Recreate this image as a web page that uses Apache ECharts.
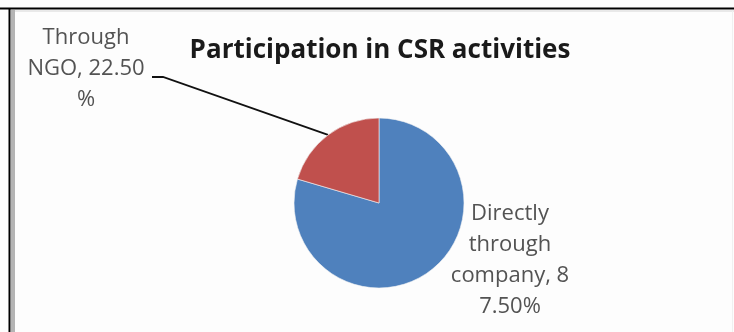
<!DOCTYPE html>
<html>
<head>
<meta charset="utf-8">
<script src="https://cdn.jsdelivr.net/npm/echarts@6/dist/echarts.min.js"></script>
<style>
  html, body { margin: 0; padding: 0; background: #ffffff; }
  #chart { width: 734px; height: 332px; }
</style>
</head>
<body>
<div id="chart"></div>
<script>
// Participation in CSR activities: share of respondents by channel
const categories = ['Directly through company', 'Through NGO'];
const shares = [87.5, 22.5];
const sliceColors = ['#4F81BD', '#C0504D'];

// Wrap "name, value%" into short lines; words stay whole, a number may be split
function wrapLabel(text, maxChars) {
  const words = text.split(' ');
  const lines = [];
  let line = '';
  words.forEach(function (w) {
    const joined = line ? line + ' ' + w : w;
    if (joined.length <= maxChars) { line = joined; return; }
    if (/\d/.test(w) && line) {
      const room = maxChars - line.length - 1;
      if (room > 0) { line += ' ' + w.slice(0, room); w = w.slice(room); }
      lines.push(line);
      line = w;
      return;
    }
    if (line) lines.push(line);
    line = w;
  });
  if (line) lines.push(line);
  return lines.join('\n');
}

const chart = echarts.init(document.getElementById('chart'), null, { renderer: 'canvas' });

const labelFont = {
  fontFamily: '"Open Sans", sans-serif',
  fontSize: 22,
  lineHeight: 31,
  color: '#535353'
};

chart.setOption({
  backgroundColor: '#fdfdfd',
  animation: false,
  title: {
    text: 'Participation in CSR activities',
    left: 375,
    top: 33,
    textAlign: 'center',
    textStyle: {
      fontFamily: '"Open Sans", sans-serif',
      fontWeight: 'bold',
      fontSize: 26,
      color: '#1a1a1a'
    }
  },
  graphic: [
    { type: 'line', shape: { x1: 0, y1: 8.5, x2: 734, y2: 8.5 }, style: { stroke: '#000', lineWidth: 2 } },
    { type: 'line', shape: { x1: 9.5, y1: 8, x2: 9.5, y2: 332 }, style: { stroke: '#000', lineWidth: 2 } },
    { type: 'line', shape: { x1: 12, y1: 11, x2: 734, y2: 11 }, style: { stroke: '#e2e2e2', lineWidth: 1.5 } },
    { type: 'rect', shape: { x: 11, y: 10, width: 4, height: 322 }, style: { fill: '#b4b4b4' } },
    { type: 'line', shape: { x1: 732.5, y1: 11, x2: 732.5, y2: 332 }, style: { stroke: '#f0f0f0', lineWidth: 1 } }
  ],
  series: [{
    type: 'pie',
    center: [379, 203],
    radius: 85,
    startAngle: 90,
    clockwise: true,
    avoidLabelOverlap: false,
    itemStyle: { borderColor: '#f4f4f4', borderWidth: 0.6 },
    label: Object.assign({
      show: true,
      position: 'outside',
      align: 'center',
      formatter: function (p) {
        return wrapLabel(p.name + ', ' + p.value.toFixed(2) + '%', 10);
      }
    }, labelFont),
    labelLine: {
      show: true,
      length: 20,
      length2: 10,
      lineStyle: { color: '#111', width: 1.8 }
    },
    labelLayout: function (params) {
      if (params.dataIndex === 1) {
        const start = params.labelLinePoints ? params.labelLinePoints[0] : [328, 134];
        return {
          x: 86, y: 69, align: 'center', verticalAlign: 'middle',
          labelLinePoints: [start, [163, 77], [152, 77]]
        };
      }
      return { x: 510, y: 260, align: 'center', verticalAlign: 'middle' };
    },
    data: categories.map(function (name, i) {
      return {
        name: name,
        value: shares[i],
        itemStyle: { color: sliceColors[i] },
        labelLine: { show: i === 1 }
      };
    })
  }]
});
</script>
</body>
</html>
